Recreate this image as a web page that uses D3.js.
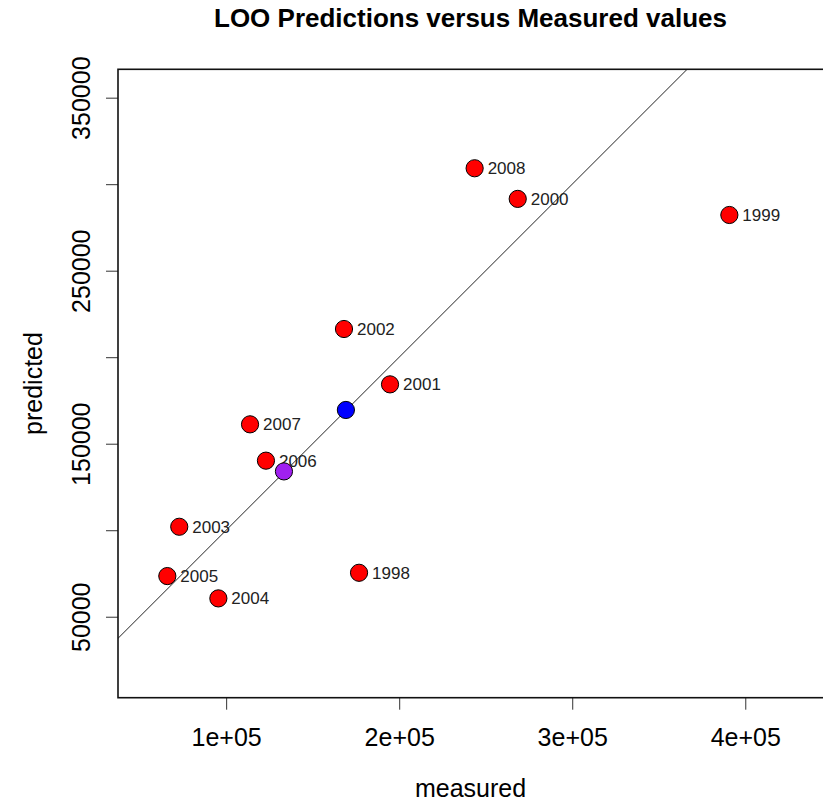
<!DOCTYPE html>
<html>
<head>
<meta charset="utf-8">
<script src="https://cdn.jsdelivr.net/npm/d3@7"></script>
<style>
  html, body { margin: 0; padding: 0; background: #fff; }
  svg { display: block; font-family: "Liberation Sans", Arial, sans-serif; }
</style>
</head>
<body>
<svg id="chart" width="823" height="803"></svg>
<script>
// Leave-one-out predictions per year against the measured values
const years     = ["2008", "2000", "1999", "2002", "2001", "2007", "2006", "2003", "2005", "1998", "2004"];
const measured  = [243600, 268500, 390800, 168100, 194700, 113800, 123000, 72900, 66000, 176800, 95500];
const predicted = [309200, 291500, 282200, 216300, 184300, 161200, 140200, 102000, 73500, 75400, 60600];

// Summary points drawn on top (no labels)
const summaryMeasured  = [169200, 133400];
const summaryPredicted = [169500, 134000];
const summaryColors    = ["#0000ff", "#a020f0"];

// Axis ticks
const xTicks = [100000, 200000, 300000, 400000];
const xTickLabels = ["1e+05", "2e+05", "3e+05", "4e+05"];
const yTicks = [50000, 100000, 150000, 200000, 250000, 300000, 350000];
const yTickLabels = ["50000", "", "150000", "", "250000", "", "350000"];

const xDomain = [37500, 445500];
const yDomain = [3200, 366400];

const svg = d3.select("#chart");
const plot = { left: 118, right: 824, top: 69.3, bottom: 697.7 };

const x = d3.scaleLinear().domain(xDomain).range([plot.left, plot.right]);
const y = d3.scaleLinear().domain(yDomain).range([plot.bottom, plot.top]);

svg.append("defs").append("clipPath").attr("id", "plotClip")
  .append("rect")
  .attr("x", plot.left).attr("y", plot.top)
  .attr("width", plot.right - plot.left).attr("height", plot.bottom - plot.top);

// Title
svg.append("text")
  .attr("x", (plot.left + plot.right) / 2 - 0.5)
  .attr("y", 26.5)
  .attr("text-anchor", "middle")
  .attr("font-size", 26)
  .attr("font-weight", "bold")
  .attr("fill", "#000")
  .text("LOO Predictions versus Measured values");

// x axis
const xAxis = d3.axisBottom(x)
  .tickValues(xTicks)
  .tickFormat((d, i) => xTickLabels[i])
  .tickSize(12)
  .tickPadding(0)
  .tickSizeOuter(0);
const gx = svg.append("g")
  .attr("transform", `translate(0,${plot.bottom})`)
  .call(xAxis);
gx.select(".domain").remove();
gx.selectAll(".tick line").attr("stroke", "#333").attr("stroke-width", 1);
gx.selectAll(".tick text")
  .attr("font-size", 25)
  .attr("fill", "#000")
  .attr("dy", null)
  .attr("y", 48.5)
  .attr("font-family", "Liberation Sans, Arial, sans-serif");

// y axis (vertical tick labels)
const yAxis = d3.axisLeft(y)
  .tickValues(yTicks)
  .tickFormat((d, i) => yTickLabels[i])
  .tickSize(12)
  .tickSizeOuter(0);
const gy = svg.append("g")
  .attr("transform", `translate(${plot.left},0)`)
  .call(yAxis);
gy.select(".domain").remove();
gy.selectAll(".tick line").attr("stroke", "#333").attr("stroke-width", 1);
gy.selectAll(".tick text")
  .attr("font-size", 25)
  .attr("fill", "#000")
  .attr("x", null).attr("dy", null)
  .attr("text-anchor", "middle")
  .attr("transform", "translate(-28,0) rotate(-90)")
  .attr("font-family", "Liberation Sans, Arial, sans-serif");

// Axis titles
svg.append("text")
  .attr("x", (plot.left + plot.right) / 2 - 0.5)
  .attr("y", 797)
  .attr("text-anchor", "middle")
  .attr("font-size", 25)
  .attr("fill", "#000")
  .text("measured");

svg.append("text")
  .attr("transform", `translate(42,${(plot.top + plot.bottom) / 2}) rotate(-90)`)
  .attr("text-anchor", "middle")
  .attr("font-size", 25)
  .attr("fill", "#000")
  .text("predicted");

// 1:1 reference line, clipped to the plotting region
svg.append("line")
  .attr("clip-path", "url(#plotClip)")
  .attr("x1", x(xDomain[0])).attr("y1", y(xDomain[0]))
  .attr("x2", x(xDomain[1])).attr("y2", y(xDomain[1]))
  .attr("stroke", "#222")
  .attr("stroke-width", 1);

// Plot frame
svg.append("rect")
  .attr("x", plot.left).attr("y", plot.top)
  .attr("width", plot.right - plot.left).attr("height", plot.bottom - plot.top)
  .attr("fill", "none")
  .attr("stroke", "#111")
  .attr("stroke-width", 1.6);

// Yearly points
const data = years.map((yr, i) => ({ year: yr, m: measured[i], p: predicted[i] }));
const pts = svg.append("g").attr("clip-path", "url(#plotClip)");
pts.selectAll("circle.year")
  .data(data)
  .join("circle")
  .attr("class", "year")
  .attr("cx", d => x(d.m))
  .attr("cy", d => y(d.p))
  .attr("r", 8.6)
  .attr("fill", "#ff0000")
  .attr("stroke", "#000")
  .attr("stroke-width", 1);

pts.selectAll("text.lab")
  .data(data)
  .join("text")
  .attr("class", "lab")
  .attr("x", d => x(d.m) + 13)
  .attr("y", d => y(d.p) + 6)
  .attr("font-size", 17)
  .attr("fill", "#222")
  .text(d => d.year);

// Summary points
const summary = summaryMeasured.map((m, i) => ({ m, p: summaryPredicted[i], c: summaryColors[i] }));
pts.selectAll("circle.summary")
  .data(summary)
  .join("circle")
  .attr("class", "summary")
  .attr("cx", d => x(d.m))
  .attr("cy", d => y(d.p))
  .attr("r", 8.6)
  .attr("fill", d => d.c)
  .attr("stroke", "#000")
  .attr("stroke-width", 1);
</script>
</body>
</html>
